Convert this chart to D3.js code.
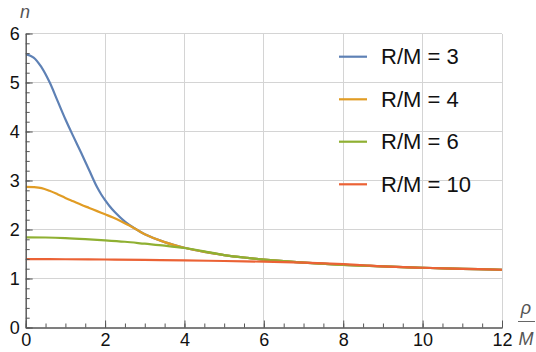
<!DOCTYPE html>
<html><head><meta charset="utf-8">
<script src="https://cdn.jsdelivr.net/npm/d3@7"></script>
<style>
html,body{margin:0;padding:0;background:#fff;}
svg{display:block;font-family:"Liberation Sans",Arial,sans-serif;}
</style></head>
<body>
<svg id="chart" width="536" height="352"></svg>
<script>
// ---- data ----
const xTicks = [0, 2, 4, 6, 8, 10, 12];
const yTicks = [0, 1, 2, 3, 4, 5, 6];
const seriesNames = ["R/M = 3", "R/M = 4", "R/M = 6", "R/M = 10"];
const seriesColors = ["#5E81B5", "#E19C24", "#8FB032", "#EB6235"];

const rhoRM3 = [0,0.2,0.4,0.6,0.8,1.0,1.2,1.4,1.6,1.7,1.8,1.9,2.0,2.1,2.25,2.5,2.75,3.0,3.5,4.0,4.5,5.0,5.5,6.0,6.5,7.0,8.0,9.0,10.0,11.0,12.0];
const nRM3   = [5.58,5.51,5.31,5.01,4.63,4.25,3.90,3.56,3.21,3.03,2.86,2.72,2.60,2.49,2.35,2.16,2.02,1.905,1.742,1.627,1.543,1.478,1.428,1.387,1.353,1.325,1.279,1.246,1.219,1.197,1.179];

const rhoRM4 = [0,0.2,0.4,0.6,0.8,1.0,1.2,1.4,1.6,1.8,2.0,2.2,2.4,2.6,2.8,3.0,3.5,4.0,4.5,5.0,5.5,6.0,6.5,7.0,8.0,9.0,10.0,11.0,12.0];
const nRM4   = [2.87,2.865,2.845,2.79,2.72,2.645,2.575,2.505,2.44,2.375,2.31,2.245,2.17,2.085,1.995,1.905,1.742,1.627,1.543,1.478,1.428,1.387,1.353,1.325,1.279,1.246,1.219,1.197,1.179];

const rhoRM6 = [0,0.5,1.0,1.5,2.0,2.5,3.0,3.5,4.0,4.5,5.0,5.5,6.0,6.5,7.0,8.0,9.0,10.0,11.0,12.0];
const nRM6   = [1.84,1.837,1.825,1.805,1.78,1.75,1.71,1.67,1.622,1.555,1.478,1.428,1.387,1.353,1.325,1.279,1.246,1.219,1.197,1.179];

const rhoRM10 = [0,1,2,3,4,5,6,7,8,8.5,9.0,10.0,11.0,12.0];
const nRM10   = [1.395,1.393,1.388,1.38,1.37,1.357,1.343,1.323,1.292,1.27,1.246,1.219,1.197,1.179];

const seriesX = [rhoRM3, rhoRM4, rhoRM6, rhoRM10];
const seriesY = [nRM3, nRM4, nRM6, nRM10];

// ---- chart ----
const svg = d3.select("#chart");
const x = d3.scaleLinear().domain([0, 12]).range([25.7, 502]);
const y = d3.scaleLinear().domain([0, 6]).range([327.5, 33.5]);

const axisColor = "#555";
const gridColor = "#d4d4d4";

// grid
const grid = svg.append("g");
grid.selectAll("line.v").data(xTicks.filter(d => d > 0)).join("line")
  .attr("x1", d => x(d)).attr("x2", d => x(d))
  .attr("y1", y(0)).attr("y2", y(6))
  .attr("stroke", gridColor).attr("stroke-width", 1).attr("shape-rendering", "crispEdges");
grid.selectAll("line.h").data(yTicks.filter(d => d > 0)).join("line")
  .attr("x1", x(0)).attr("x2", x(12))
  .attr("y1", d => y(d)).attr("y2", d => y(d))
  .attr("stroke", gridColor).attr("stroke-width", 1).attr("shape-rendering", "crispEdges");

// curves
svg.append("clipPath").attr("id", "clip").append("rect")
  .attr("x", x(0)).attr("y", y(6)).attr("width", x(12) - x(0)).attr("height", y(0) - y(6));
const line = d3.line().x(d => x(d[0])).y(d => y(d[1])).curve(d3.curveCatmullRom.alpha(0.5));
const curves = svg.append("g").attr("clip-path", "url(#clip)");
seriesX.forEach((xs, i) => {
  const pts = xs.map((v, j) => [v, seriesY[i][j]]);
  curves.append("path").datum(pts).attr("d", line)
    .attr("fill", "none").attr("stroke", seriesColors[i]).attr("stroke-width", 2.2)
    .attr("stroke-linejoin", "round");
});

// axes
function styleAxis(g) {
  g.select(".domain").attr("stroke", axisColor);
  g.selectAll(".tick line").attr("stroke", axisColor);
  g.selectAll(".tick text").attr("fill", "#111").attr("font-size", 18)
    .attr("font-family", "'Liberation Sans', Arial, sans-serif");
}
const xMinor = d3.axisBottom(x).tickValues(d3.range(0, 12.01, 0.5)).tickSize(-4).tickFormat("").tickSizeOuter(0);
const xMajor = d3.axisBottom(x).tickValues(xTicks).tickSize(-7).tickPadding(6).tickFormat(d3.format("d")).tickSizeOuter(0);
const yMinor = d3.axisLeft(y).tickValues(d3.range(0, 6.01, 0.2)).tickSize(-4).tickFormat("").tickSizeOuter(0);
const yMajor = d3.axisLeft(y).tickValues(yTicks).tickSize(-7).tickPadding(6).tickFormat(d3.format("d")).tickSizeOuter(0);

svg.append("g").attr("transform", `translate(0,${y(0)})`).call(xMinor).call(styleAxis);
svg.append("g").attr("transform", `translate(0,${y(0)})`).call(xMajor).call(styleAxis);
svg.append("g").attr("transform", `translate(${x(0)},0)`).call(yMinor).call(styleAxis);
svg.append("g").attr("transform", `translate(${x(0)},0)`).call(yMajor).call(styleAxis);

// axis labels
svg.append("text").attr("x", 25).attr("y", 18).attr("text-anchor", "middle")
  .attr("font-size", 18).attr("font-style", "italic").attr("fill", "#555").text("n");
svg.append("text").attr("x", 526).attr("y", 314).attr("text-anchor", "middle")
  .attr("font-size", 18).attr("font-style", "italic").attr("fill", "#555").text("ρ");
svg.append("line").attr("x1", 518).attr("x2", 535).attr("y1", 321.5).attr("y2", 321.5)
  .attr("stroke", "#666").attr("stroke-width", 1);
svg.append("text").attr("x", 526).attr("y", 345).attr("text-anchor", "middle")
  .attr("font-size", 18).attr("font-style", "italic").attr("fill", "#555").text("M");

// legend
const legendY = [56.7, 99.3, 141.7, 184.3];
const legend = svg.append("g");
seriesNames.forEach((name, i) => {
  legend.append("line").attr("x1", 339).attr("x2", 367)
    .attr("y1", legendY[i]).attr("y2", legendY[i])
    .attr("stroke", seriesColors[i]).attr("stroke-width", 2.2);
  legend.append("text").attr("x", 381).attr("y", legendY[i]).attr("dy", "0.35em")
    .attr("font-size", 22).attr("fill", "#111").text(name);
});
</script>
</body></html>
